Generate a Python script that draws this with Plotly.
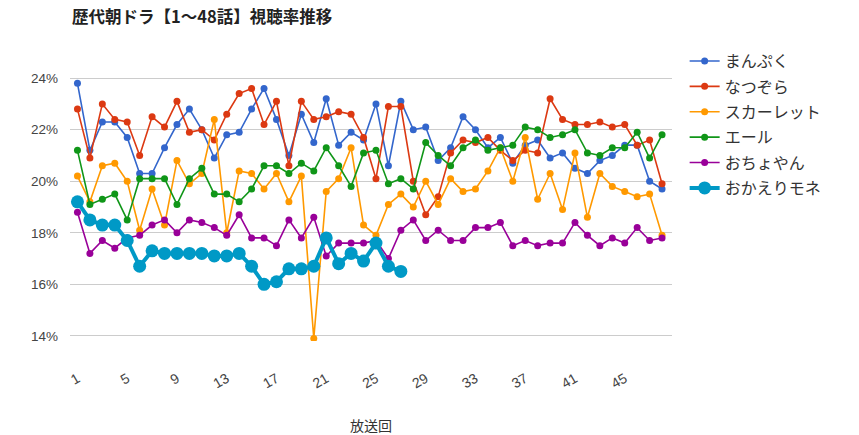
import plotly.graph_objects as go

episodes = list(range(1, 49))
names = ["まんぷく", "なつぞら", "スカーレット", "エール", "おちょやん", "おかえりモネ"]

manpuku = [23.8, 21.2, 22.3, 22.3, 21.7, 20.3, 20.3, 21.3, 22.2, 22.8, 22.0, 20.9,
           21.8, 21.9, 22.8, 23.6, 22.4, 21.0, 22.6, 21.5, 23.2, 21.4, 21.9, 21.6,
           23.0, 20.6, 23.1, 22.0, 22.1, 20.8, 21.3, 22.5, 22.0, 21.3, 21.7, 20.7,
           21.4, 21.6, 20.9, 21.1, 20.5, 20.3, 20.8, 21.0, 21.4, 21.4, 20.0, 19.7]
natsuzora = [22.8, 20.9, 23.0, 22.4, 22.3, 21.0, 22.5, 22.1, 23.1, 21.9, 22.0, 21.6,
             22.6, 23.4, 23.6, 22.2, 23.1, 20.6, 23.1, 22.4, 22.5, 22.7, 22.6, 21.7,
             20.1, 22.9, 22.9, 20.0, 18.7, 19.4, 21.1, 21.6, 21.5, 21.7, 21.2, 20.8,
             21.2, 21.1, 23.2, 22.4, 22.2, 22.2, 22.3, 22.1, 22.2, 21.4, 21.6, 19.9]
scarlet = [20.2, 19.2, 20.6, 20.7, 20.0, 18.1, 19.7, 18.3, 20.8, 19.9, 20.3, 22.4,
           18.0, 20.4, 20.3, 19.7, 20.3, 19.2, 20.2, 13.9, 19.6, 20.1, 21.3, 18.3,
           17.9, 19.1, 19.5, 19.0, 20.0, 19.1, 20.1, 19.6, 19.7, 20.4, 21.3, 20.0,
           21.7, 19.3, 20.3, 18.9, 21.1, 18.6, 20.3, 19.8, 19.6, 19.4, 19.5, 17.9]
yell = [21.2, 19.1, 19.3, 19.5, 18.5, 20.1, 20.1, 20.1, 19.1, 20.1, 20.5, 19.5,
        19.5, 19.2, 19.7, 20.6, 20.6, 20.3, 20.7, 20.4, 21.3, 20.6, 19.8, 21.1,
        21.2, 19.9, 20.1, 19.7, 21.5, 21.0, 20.6, 21.3, 21.6, 21.2, 21.3, 21.4,
        22.1, 22.0, 21.7, 21.8, 22.0, 21.1, 21.0, 21.3, 21.3, 21.9, 20.9, 21.8]
ochoyan = [18.8, 17.2, 17.7, 17.4, 17.8, 17.9, 18.3, 18.5, 18.0, 18.5, 18.4, 18.2,
           17.9, 18.7, 17.8, 17.8, 17.5, 18.5, 17.8, 18.6, 17.1, 17.6, 17.6, 17.6,
           17.7, 17.0, 18.1, 18.5, 17.7, 18.1, 17.7, 17.7, 18.2, 18.2, 18.4, 17.5,
           17.7, 17.5, 17.6, 17.6, 18.4, 17.9, 17.5, 17.8, 17.6, 18.2, 17.7, 17.8]
okaeri = [19.2, 18.5, 18.3, 18.3, 17.7, 16.7, 17.3, 17.2, 17.2, 17.2, 17.2, 17.1,
          17.1, 17.2, 16.7, 16.0, 16.1, 16.6, 16.6, 16.7, 17.8, 16.8, 17.2, 16.9,
          17.6, 16.7, 16.5]

y_ticks = [14, 16, 18, 20, 22, 24]
y_tick_labels = ["14%", "16%", "18%", "20%", "22%", "24%"]
x_ticks = list(range(1, 48, 4))

series = [manpuku, natsuzora, scarlet, yell, ochoyan, okaeri]
colors = ["#3366cc", "#dc3912", "#ff9900", "#109618", "#990099", "#0099c6"]

FONT = "Liberation Sans, Arial, Noto Sans CJK JP, sans-serif"
CJK = "Noto Sans CJK JP, sans-serif"

fig = go.Figure()
for i, (name, vals, col) in enumerate(zip(names, series, colors)):
    big = (name == "おかえりモネ")
    fig.add_trace(go.Scatter(
        x=episodes[:len(vals)], y=vals, name=name, mode="lines+markers",
        legendgroup=f"g{i}",
        line=dict(color=col, width=4 if big else 1.6),
        marker=dict(color=col, size=13 if big else 7),
    ))

fig.update_layout(
    width=859, height=435,
    paper_bgcolor="white", plot_bgcolor="white",
    margin=dict(l=70, r=187, t=73, b=94, autoexpand=False),
    font=dict(family=FONT, size=14, color="#333"),
    title=dict(text="<b>歴代朝ドラ【1〜48話】視聴率推移</b>",
               x=72 / 859, xanchor="left", xref="container",
               y=1 - 17 / 435, yanchor="middle", yref="container",
               pad=dict(l=0, r=0, t=0, b=0),
               font=dict(family=CJK, size=16.5, color="#222")),
    legend=dict(x=1.021, xanchor="left", y=1.108, yanchor="top",
                font=dict(family=CJK, size=16, color="#333"),
                tracegroupgap=1.6, bgcolor="rgba(0,0,0,0)"),
    showlegend=True,
)
fig.update_xaxes(
    range=[0.4, 48.8], tickvals=x_ticks, ticktext=[str(v) for v in x_ticks],
    tickangle=-30, showgrid=False, zeroline=False, showline=False, ticks="",
    ticklabelstandoff=26, automargin=False,
    tickfont=dict(size=14, color="#444"),
    title=dict(text="放送回", standoff=32,
               font=dict(family=CJK, size=14, color="#333")),
)
fig.update_yaxes(
    range=[13.8, 24.2], tickvals=y_ticks, ticktext=y_tick_labels,
    showgrid=True, gridcolor="#cccccc", gridwidth=1, zeroline=False, showline=False,
    ticks="", ticklabelstandoff=11, automargin=False,
    tickfont=dict(size=13.5, color="#444"),
)

fig.write_html("out.html", config={"displayModeBar": False},
               post_script="document.body.style.margin='0';")
